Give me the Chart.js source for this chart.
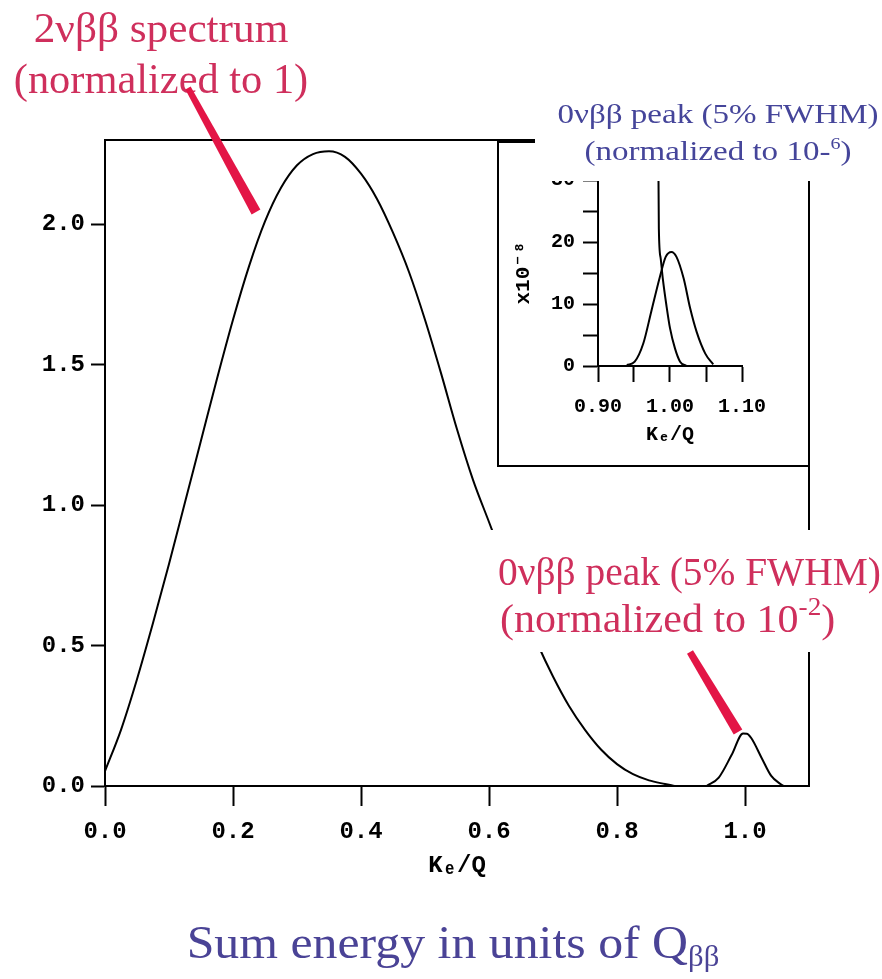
<!DOCTYPE html>
<html>
<head>
<meta charset="utf-8">
<script src="https://cdn.jsdelivr.net/npm/chart.js@4.4.0/dist/chart.umd.min.js"></script>
<style>
  html, body { margin: 0; padding: 0; background: #fff; }
  #wrap { position: relative; width: 882px; height: 979px; }
  #main { position: absolute; left: 0; top: 0; }
  #inset { position: absolute; left: 497px; top: 85px; }
</style>
</head>
<body>
<div id="wrap">
  <canvas id="main" width="882" height="979"></canvas>
  <canvas id="inset" width="385" height="382"></canvas>
</div>
<script>
// 2vbb sum energy spectrum (main plot)
const spec2nX = [0, 0.025, 0.05, 0.075, 0.10, 0.125, 0.15, 0.175, 0.20, 0.225, 0.25, 0.275, 0.30, 0.325,
  0.35, 0.375, 0.40, 0.425, 0.45, 0.475, 0.50, 0.525, 0.55, 0.575, 0.60, 0.625, 0.65, 0.675, 0.70,
  0.725, 0.75, 0.775, 0.80, 0.825, 0.85, 0.875, 0.89];
const spec2nY = [0.053, 0.20, 0.38, 0.58, 0.79, 1.01, 1.23, 1.45, 1.66, 1.85, 2.01, 2.13, 2.21, 2.25,
  2.26, 2.24, 2.18, 2.09, 1.97, 1.83, 1.66, 1.47, 1.27, 1.09, 0.94, 0.79, 0.645, 0.51, 0.39,
  0.285, 0.20, 0.13, 0.078, 0.042, 0.02, 0.007, 0];

// 0vbb peak (main plot, normalized to 1e-2)
const peak0nX = [0.94, 0.959, 0.979, 0.997, 1.003, 1.01, 1.026, 1.041, 1.056, 1.06];
const peak0nY = [0, 0.03, 0.11, 0.187, 0.186, 0.17, 0.10, 0.036, 0.006, 0];

// inset: end of 2vbb spectrum and 0vbb peak (normalized to 1e-6)
const insetTailX = [0.9835, 0.9845, 0.987, 0.99, 0.995, 1.0, 1.007, 1.014, 1.023];
const insetTailY = [40, 22.2, 17.4, 14.1, 9.8, 6.1, 2.8, 0.7, 0];
const insetPeakX = [0.94, 0.951, 0.963, 0.974, 0.986, 0.994, 1.002, 1.009, 1.019, 1.028, 1.037, 1.049, 1.06];
const insetPeakY = [0.16, 0.7, 3.66, 8.8, 14.4, 17.6, 18.4, 17.6, 14.1, 9.3, 5.5, 2.0, 0.27];

// axis ticks
const mainXTicks = [0, 0.2, 0.4, 0.6, 0.8, 1.0];
const mainYTicks = [0, 0.5, 1.0, 1.5, 2.0];
const insetXTicks = [0.90, 0.95, 1.00, 1.05, 1.10];
const insetXLabels = [0.90, 1.00, 1.10];
const insetYTicks = [0, 5, 10, 15, 20, 25, 30];
const insetYLabels = [0, 10, 20, 30];

const toPoints = (xs, ys) => xs.map((x, i) => ({ x: x, y: ys[i] }));

const serif = "'Liberation Serif', 'Times New Roman', serif";
const mono = "'Liberation Mono', 'DejaVu Sans Mono', monospace";
const redText = '#cf2f5c';
const redArrow = '#e31546';

// draw a row of text pieces, each with its own size and vertical shift; sx stretches horizontally
function drawRuns(ctx, runs, x, y, align, color, sx) {
  sx = sx || 1;
  ctx.save();
  ctx.fillStyle = color;
  ctx.textBaseline = 'alphabetic';
  ctx.textAlign = 'left';
  let total = 0;
  runs.forEach(r => {
    ctx.font = r.size + 'px ' + serif;
    r.w = ctx.measureText(r.t).width;
    total += r.w;
  });
  ctx.translate(x, y);
  ctx.scale(sx, 1);
  let cx = align === 'center' ? -total / 2 : 0;
  runs.forEach(r => {
    ctx.font = r.size + 'px ' + serif;
    ctx.fillText(r.t, cx, r.dy || 0);
    cx += r.w;
  });
  ctx.restore();
}

function drawArrow(ctx, x1, y1, x2, y2, w1, w2) {
  const dx = x2 - x1, dy = y2 - y1;
  const len = Math.hypot(dx, dy);
  const nx = -dy / len, ny = dx / len;
  ctx.fillStyle = redArrow;
  ctx.beginPath();
  ctx.moveTo(x1 + nx * w1 / 2, y1 + ny * w1 / 2);
  ctx.lineTo(x2 + nx * w2 / 2, y2 + ny * w2 / 2);
  ctx.lineTo(x2 - nx * w2 / 2, y2 - ny * w2 / 2);
  ctx.lineTo(x1 - nx * w1 / 2, y1 - ny * w1 / 2);
  ctx.closePath();
  ctx.fill();
}

const mainDecor = {
  id: 'mainDecor',
  afterDraw(chart) {
    const { ctx, chartArea: a } = chart;
    ctx.save();
    // top and right frame
    ctx.strokeStyle = '#000';
    ctx.lineWidth = 2;
    ctx.beginPath();
    ctx.moveTo(a.left, a.top);
    ctx.lineTo(a.right, a.top);
    ctx.lineTo(a.right, a.bottom);
    ctx.stroke();

    // 2vbb label
    drawRuns(ctx, [{ t: '2νββ spectrum', size: 42 }], 161, 42, 'center', redText, 1.03);
    drawRuns(ctx, [{ t: '(normalized to 1)', size: 42 }], 161, 93, 'center', redText, 1.01);
    drawArrow(ctx, 188, 88, 256, 212, 6, 10);

    // 0vbb label, on a white patch
    ctx.fillStyle = '#fff';
    ctx.fillRect(488, 530, 394, 122);
    drawRuns(ctx, [{ t: '0νββ peak (5% FWHM)', size: 40 }], 498, 585, 'left', redText, 0.985);
    drawRuns(ctx, [{ t: '(normalized to 10', size: 40 }, { t: '-2', size: 26, dy: -17 }, { t: ')', size: 40 }],
      500, 632, 'left', redText, 1.05);
    drawArrow(ctx, 690, 652, 738, 732, 7, 10);

    // bottom caption
    drawRuns(ctx, [{ t: 'Sum energy in units of Q', size: 47 }, { t: 'ββ', size: 29, dy: 8 }],
      453, 958, 'center', '#4a4396', 1.06);
    ctx.restore();
  }
};

const insetDecor = {
  id: 'insetDecor',
  afterDraw(chart) {
    const ctx = chart.ctx;
    ctx.save();
    ctx.strokeStyle = '#000';
    ctx.lineWidth = 2;
    ctx.beginPath();
    ctx.moveTo(1, 56);
    ctx.lineTo(1, 381);
    ctx.lineTo(312, 381);
    ctx.stroke();
    ctx.lineWidth = 4;
    ctx.beginPath();
    ctx.moveTo(0, 56);
    ctx.lineTo(38, 56);
    ctx.stroke();
    // white patch behind the inset title
    ctx.fillStyle = '#fff';
    ctx.fillRect(38, 0, 347, 96);
    drawRuns(ctx, [{ t: '0νββ peak (5% FWHM)', size: 28 }], 221, 38, 'center', '#45459a', 1.18);
    drawRuns(ctx, [{ t: '(normalized to 10-', size: 28 }, { t: '6', size: 17, dy: -11 }, { t: ')', size: 28 }],
      221, 75, 'center', '#45459a', 1.18);
    ctx.restore();
  }
};

new Chart(document.getElementById('main'), {
  type: 'scatter',
  data: {
    datasets: [
      {
        data: toPoints(spec2nX, spec2nY),
        showLine: true, borderColor: '#000', borderWidth: 2, pointRadius: 0,
        cubicInterpolationMode: 'monotone'
      },
      {
        data: toPoints(peak0nX, peak0nY),
        showLine: true, borderColor: '#000', borderWidth: 2, pointRadius: 0,
        cubicInterpolationMode: 'monotone'
      }
    ]
  },
  options: {
    responsive: false,
    animation: false,
    devicePixelRatio: 1,
    layout: { padding: { top: 140, right: 73, left: 0, bottom: 0 } },
    plugins: { legend: { display: false }, tooltip: { enabled: false } },
    scales: {
      x: {
        type: 'linear', min: 0, max: 1.1,
        afterBuildTicks: s => { s.ticks = mainXTicks.map(v => ({ value: v })); },
        afterFit: s => { s.height = 193; },
        ticks: {
          color: '#000', padding: 12, maxRotation: 0, autoSkip: false,
          font: { family: mono, size: 24, weight: 'bold' },
          callback: v => Number(v).toFixed(1)
        },
        grid: { display: true, drawOnChartArea: false, tickLength: 20, tickColor: '#000', tickWidth: 2 },
        border: { display: true, color: '#000', width: 2 },
        title: {
          display: true, text: 'Kₑ/Q', color: '#000',
          font: { family: mono, size: 24, weight: 'bold' },
          padding: { top: 0, bottom: 99 }
        }
      },
      y: {
        type: 'linear', min: 0, max: 2.3,
        afterBuildTicks: s => { s.ticks = mainYTicks.map(v => ({ value: v })); },
        afterFit: s => { s.width = 105; },
        ticks: {
          color: '#000', padding: 6,
          font: { family: mono, size: 24, weight: 'bold' },
          callback: v => Number(v).toFixed(1)
        },
        grid: { display: true, drawOnChartArea: false, tickLength: 14, tickColor: '#000', tickWidth: 2 },
        border: { display: true, color: '#000', width: 2 }
      }
    }
  },
  plugins: [mainDecor]
});

new Chart(document.getElementById('inset'), {
  type: 'scatter',
  data: {
    datasets: [
      {
        data: toPoints(insetTailX, insetTailY),
        showLine: true, borderColor: '#000', borderWidth: 2, pointRadius: 0,
        cubicInterpolationMode: 'monotone'
      },
      {
        data: toPoints(insetPeakX, insetPeakY),
        showLine: true, borderColor: '#000', borderWidth: 2, pointRadius: 0,
        cubicInterpolationMode: 'monotone'
      }
    ]
  },
  options: {
    responsive: false,
    animation: false,
    devicePixelRatio: 1,
    layout: { padding: { top: 95, right: 140, left: 0, bottom: 0 } },
    plugins: { legend: { display: false }, tooltip: { enabled: false } },
    scales: {
      x: {
        type: 'linear', min: 0.9, max: 1.1,
        afterBuildTicks: s => { s.ticks = insetXTicks.map(v => ({ value: v })); },
        afterFit: s => { s.height = 101; },
        ticks: {
          color: '#000', padding: 13, maxRotation: 0, autoSkip: false,
          font: { family: mono, size: 20, weight: 'bold' },
          callback: v => insetXLabels.some(l => Math.abs(l - v) < 1e-6) ? Number(v).toFixed(2) : ''
        },
        grid: { display: true, drawOnChartArea: false, tickLength: 16, tickColor: '#000', tickWidth: 2 },
        border: { display: true, color: '#000', width: 2 },
        title: {
          display: true, text: 'Kₑ/Q', color: '#000',
          font: { family: mono, size: 20, weight: 'bold' },
          padding: { top: 0, bottom: 20 }
        }
      },
      y: {
        type: 'linear', min: 0, max: 30,
        afterBuildTicks: s => { s.ticks = insetYTicks.map(v => ({ value: v })); },
        afterFit: s => { s.width = 101; },
        ticks: {
          color: '#000', padding: 8,
          font: { family: mono, size: 20, weight: 'bold' },
          callback: v => insetYLabels.includes(v) ? String(v) : ''
        },
        grid: { display: true, drawOnChartArea: false, tickLength: 15, tickColor: '#000', tickWidth: 2 },
        border: { display: true, color: '#000', width: 2 },
        title: {
          display: true, text: 'x10⁻⁸', color: '#000',
          font: { family: mono, size: 21, weight: 'bold' },
          padding: { top: 14, bottom: 0 }
        }
      }
    }
  },
  plugins: [insetDecor]
});
</script>
</body>
</html>
